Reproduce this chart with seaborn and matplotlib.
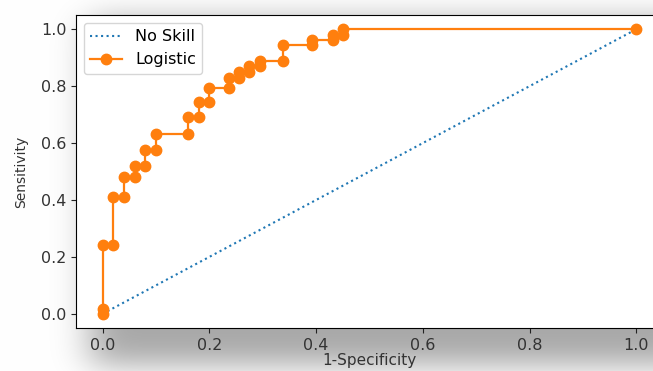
import math
import numpy as np
import matplotlib
matplotlib.use("Agg")
import matplotlib.pyplot as plt
import seaborn as sns

# ROC data: no-skill reference and logistic regression model
ns_fpr = [0.0, 1.0]
ns_tpr = [0.0, 1.0]

lr_fpr = [0.0, 0.0, 0.0, 0.02, 0.02, 0.04, 0.04, 0.06, 0.06, 0.08, 0.08,
          0.10, 0.10, 0.16, 0.16, 0.18, 0.18, 0.20, 0.20, 0.237, 0.237,
          0.255, 0.255, 0.275, 0.275, 0.295, 0.295, 0.337, 0.337,
          0.393, 0.393, 0.431, 0.431, 0.451, 0.451, 1.0]
lr_tpr = [0.0, 0.018, 0.24, 0.24, 0.41, 0.41, 0.48, 0.48, 0.52, 0.52, 0.575,
          0.575, 0.633, 0.633, 0.69, 0.69, 0.745, 0.745, 0.795, 0.795, 0.83,
          0.83, 0.85, 0.85, 0.87, 0.87, 0.89, 0.89, 0.945,
          0.945, 0.963, 0.963, 0.98, 0.98, 1.0, 1.0]

W, H = 653, 371
fig = plt.figure(figsize=(W / 100, H / 100), dpi=100)

# soft drop shadow behind the plotting area
def edge_profile(coords, lo, hi, sigma):
    k = sigma * math.sqrt(2)
    return np.array([0.5 * (math.erf((c - lo) / k) - math.erf((c - hi) / k)) for c in coords])

xs = np.arange(W) + 0.5
ys = np.arange(H) + 0.5
px = edge_profile(xs, 90, 700, 18)
py = edge_profile(ys, 20, 365, 15)
shade = 1.0 - 0.34 * np.outer(py, px)
bg = np.dstack([shade, shade, shade])
fig.figimage(bg, xo=0, yo=0, origin="upper", zorder=-10)
fig.patch.set_alpha(0)

ax = fig.add_axes([76 / W, (H - 328) / H, 587 / W, 313 / H])
ax.set_facecolor("white")

sns.lineplot(x=ns_fpr, y=ns_tpr, ax=ax, color="C0", linestyle=":",
             linewidth=1.5, label="No Skill", sort=False, estimator=None)
sns.lineplot(x=lr_fpr, y=lr_tpr, ax=ax, color="C1", linewidth=1.6,
             marker="o", markersize=7.5, markeredgecolor="C1",
             markeredgewidth=1, label="Logistic", sort=False, estimator=None)

ax.set_xlim(-0.05, 1.05)
ax.set_ylim(-0.05, 1.05)
ax.set_xticks([0.0, 0.2, 0.4, 0.6, 0.8, 1.0])
ax.set_yticks([0.0, 0.2, 0.4, 0.6, 0.8, 1.0])
ax.tick_params(labelsize=11.5, colors="#222222", labelcolor="#333333")
ax.set_xlabel("1-Specificity", fontsize=11, labelpad=0.5, color="#333333")
ax.set_ylabel("Sensitivity", fontsize=10, labelpad=9, color="#333333")
ax.legend(loc="upper left", fontsize=11.5)

fig.savefig("out.png", dpi=100)
